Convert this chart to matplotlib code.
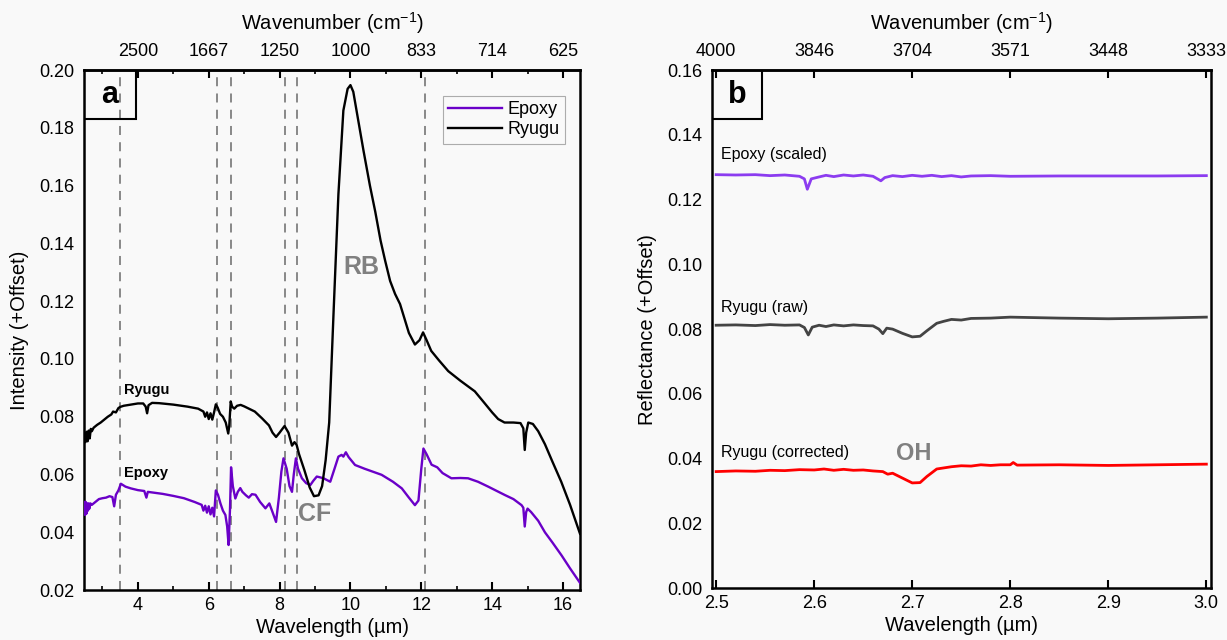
import matplotlib
matplotlib.use("Agg")
import matplotlib.pyplot as plt
from matplotlib.patches import Rectangle

plt.rcParams['font.family'] = ['Liberation Sans', 'DejaVu Sans']

# ---- panel a data (wavelength in um, intensity + offset) ----
ryugu_wl = [2.48, 2.52, 2.55, 2.58, 2.61, 2.64, 2.67, 2.70, 2.75, 2.85, 2.95, 3.05, 3.15, 3.25, 3.30,
            3.38, 3.45, 3.50, 3.60, 3.80, 4.00, 4.15, 4.22, 4.26, 4.30, 4.40, 4.60, 5.00, 5.40, 5.70,
            5.85, 5.90, 5.95, 6.00, 6.05, 6.10, 6.15, 6.20, 6.25, 6.32, 6.40, 6.48, 6.55, 6.58, 6.62,
            6.66, 6.72, 6.80, 6.90, 7.00, 7.10, 7.30, 7.50, 7.70, 7.80, 7.90, 8.00, 8.14, 8.25, 8.35,
            8.42, 8.48, 8.55, 8.70, 8.85, 8.97, 9.10, 9.20, 9.30, 9.40, 9.52, 9.66, 9.80, 9.92, 10.0,
            10.08, 10.2, 10.37, 10.55, 10.70, 10.85, 10.98, 11.12, 11.26, 11.40, 11.50, 11.65, 11.82,
            11.95, 12.05, 12.15, 12.28, 12.50, 12.76, 13.10, 13.51, 13.80, 14.00, 14.17, 14.35, 14.60,
            14.80, 14.88, 14.92, 14.96, 15.02, 15.15, 15.30, 15.49, 15.70, 15.95, 16.20, 16.48]
ryugu_int = [0.0745, 0.0712, 0.0748, 0.0715, 0.0752, 0.0725, 0.0758, 0.0750, 0.0762, 0.0772, 0.0780,
             0.0790, 0.0800, 0.0808, 0.0818, 0.0815, 0.0830, 0.0834, 0.0838, 0.0842, 0.0846, 0.0846,
             0.0835, 0.0812, 0.0840, 0.0848, 0.0847, 0.0842, 0.0835, 0.0828, 0.0818, 0.0800, 0.0815,
             0.0792, 0.0812, 0.0790, 0.0815, 0.0843, 0.0832, 0.0810, 0.0800, 0.0780, 0.0742, 0.0770,
             0.0853, 0.0835, 0.0828, 0.0838, 0.0841, 0.0836, 0.0830, 0.0818, 0.0795, 0.0770, 0.0745,
             0.0730, 0.0745, 0.0768, 0.0745, 0.0700, 0.0712, 0.0703, 0.0670, 0.0615, 0.0555, 0.0525,
             0.0528, 0.0560, 0.0650, 0.0780, 0.1150, 0.1570, 0.1860, 0.1935, 0.1948, 0.1925, 0.1840,
             0.1720, 0.1600, 0.1510, 0.1410, 0.1340, 0.1270, 0.1225, 0.1190, 0.1150, 0.1090, 0.1050,
             0.1065, 0.1092, 0.1065, 0.1028, 0.0995, 0.0958, 0.0925, 0.0888, 0.0845, 0.0815, 0.0792,
             0.0780, 0.0780, 0.0778, 0.0760, 0.0685, 0.0745, 0.0780, 0.0775, 0.0750, 0.0705, 0.0645,
             0.0575, 0.0495, 0.0395]

epoxy_wl = [2.48, 2.51, 2.53, 2.55, 2.57, 2.59, 2.61, 2.63, 2.66, 2.70, 2.80, 2.90, 3.00, 3.10, 3.20,
            3.28, 3.33, 3.38, 3.45, 3.52, 3.65, 3.80, 4.00, 4.18, 4.24, 4.28, 4.40, 4.70, 5.00, 5.30,
            5.60, 5.80, 5.85, 5.90, 5.95, 6.00, 6.05, 6.10, 6.15, 6.20, 6.26, 6.33, 6.40, 6.47, 6.52,
            6.56, 6.60, 6.63, 6.68, 6.75, 6.82, 6.89, 6.95, 7.05, 7.13, 7.22, 7.32, 7.45, 7.60, 7.71,
            7.80, 7.90, 7.98, 8.05, 8.11, 8.20, 8.28, 8.35, 8.40, 8.46, 8.52, 8.63, 8.75, 8.87, 8.95,
            9.05, 9.15, 9.24, 9.35, 9.43, 9.55, 9.66, 9.75, 9.80, 9.87, 9.95, 10.13, 10.40, 10.88,
            11.20, 11.45, 11.65, 11.82, 11.92, 12.00, 12.06, 12.15, 12.29, 12.45, 12.60, 12.85, 13.10,
            13.32, 13.60, 13.89, 14.10, 14.36, 14.60, 14.83, 14.88, 14.92, 14.96, 15.00, 15.10, 15.30,
            15.49, 15.70, 15.96, 16.20, 16.48]
epoxy_int = [0.0505, 0.0460, 0.0505, 0.0465, 0.0500, 0.0475, 0.0500, 0.0482, 0.0500, 0.0495, 0.0505,
             0.0515, 0.0518, 0.0520, 0.0525, 0.0522, 0.0490, 0.0530, 0.0545, 0.0568, 0.0558, 0.0552,
             0.0546, 0.0543, 0.0520, 0.0540, 0.0538, 0.0533, 0.0526, 0.0518, 0.0505, 0.0495, 0.0475,
             0.0492, 0.0468, 0.0490, 0.0462, 0.0485, 0.0455, 0.0545, 0.0530, 0.0500, 0.0475, 0.0460,
             0.0420, 0.0356, 0.0480, 0.0625, 0.0560, 0.0517, 0.0540, 0.0553, 0.0540, 0.0528, 0.0520,
             0.0532, 0.0530, 0.0505, 0.0483, 0.0500, 0.0470, 0.0436, 0.0520, 0.0610, 0.0656, 0.0620,
             0.0560, 0.0540, 0.0600, 0.0656, 0.0620, 0.0587, 0.0570, 0.0564, 0.0578, 0.0593, 0.0590,
             0.0587, 0.0580, 0.0575, 0.0620, 0.0662, 0.0668, 0.0662, 0.0677, 0.0660, 0.0633, 0.0620,
             0.0599, 0.0575, 0.0552, 0.0520, 0.0494, 0.0510, 0.0620, 0.0690, 0.0670, 0.0634, 0.0625,
             0.0605, 0.0587, 0.0588, 0.0587, 0.0575, 0.0558, 0.0545, 0.0529, 0.0515, 0.0494, 0.0485,
             0.0420, 0.0470, 0.0482, 0.0470, 0.0440, 0.0400, 0.0365, 0.0320, 0.0275, 0.0225]

band_lines = [3.5, 6.22, 6.62, 8.15, 8.48, 12.1]
a_ticks = [4, 6, 8, 10, 12, 14, 16]
a_top_labels = ["2500", "1667", "1250", "1000", "833", "714", "625"]

# ---- panel b data ----
b_epoxy_wl = [2.500, 2.520, 2.540, 2.555, 2.570, 2.585, 2.590, 2.593, 2.597, 2.605, 2.612, 2.620,
              2.630, 2.640, 2.650, 2.660, 2.668, 2.672, 2.680, 2.690, 2.700, 2.710, 2.720, 2.730,
              2.740, 2.750, 2.760, 2.780, 2.800, 2.850, 2.900, 2.950, 3.000]
b_epoxy = [0.1277, 0.1276, 0.1277, 0.1274, 0.1276, 0.1272, 0.1264, 0.1232, 0.1264, 0.1270, 0.1275,
           0.1271, 0.1276, 0.1273, 0.1276, 0.1272, 0.1258, 0.1268, 0.1274, 0.1271, 0.1275, 0.1272,
           0.1275, 0.1271, 0.1274, 0.1270, 0.1273, 0.1274, 0.1272, 0.1273, 0.1273, 0.1273, 0.1274]

b_raw_wl = [2.500, 2.520, 2.540, 2.555, 2.570, 2.585, 2.590, 2.594, 2.598, 2.605, 2.612, 2.620, 2.630,
            2.640, 2.650, 2.660, 2.666, 2.670, 2.674, 2.680, 2.690, 2.700, 2.708, 2.715, 2.725, 2.732,
            2.740, 2.750, 2.760, 2.780, 2.800, 2.850, 2.900, 2.950, 3.000]
b_raw = [0.0812, 0.0813, 0.0811, 0.0814, 0.0812, 0.0813, 0.0805, 0.0782, 0.0806, 0.0812, 0.0808,
         0.0813, 0.0810, 0.0813, 0.0811, 0.0810, 0.0800, 0.0786, 0.0803, 0.0800, 0.0787, 0.0776,
         0.0778, 0.0795, 0.0818, 0.0824, 0.0830, 0.0828, 0.0833, 0.0834, 0.0837, 0.0834, 0.0832,
         0.0834, 0.0837]

b_corr_wl = [2.500, 2.520, 2.540, 2.555, 2.570, 2.585, 2.600, 2.610, 2.620, 2.630, 2.640, 2.650,
             2.660, 2.670, 2.675, 2.680, 2.690, 2.700, 2.708, 2.715, 2.725, 2.740, 2.750, 2.760,
             2.770, 2.780, 2.790, 2.800, 2.803, 2.807, 2.850, 2.900, 2.950, 3.000]
b_corr = [0.0360, 0.0362, 0.0361, 0.0364, 0.0363, 0.0366, 0.0365, 0.0368, 0.0364, 0.0367, 0.0364,
          0.0365, 0.0362, 0.0360, 0.0352, 0.0355, 0.0340, 0.0325, 0.0326, 0.0345, 0.0368, 0.0375,
          0.0378, 0.0377, 0.0381, 0.0379, 0.0381, 0.0381, 0.0388, 0.0380, 0.0381, 0.0379, 0.0381,
          0.0383]

b_ticks = [2.5, 2.6, 2.7, 2.8, 2.9, 3.0]
b_top_labels = ["4000", "3846", "3704", "3571", "3448", "3333"]

bg = '#f9f9f9'
tick_fs = 13
lab_fs = 14.5
fig = plt.figure(figsize=(12.27, 6.4), dpi=100, facecolor=bg)
ax1 = fig.add_axes([0.0685, 0.078, 0.4042, 0.8125])
ax2 = fig.add_axes([0.5803, 0.081, 0.4067, 0.8095])


def style(ax):
    ax.set_facecolor(bg)
    for s in ax.spines.values():
        s.set_linewidth(1.8)
    ax.tick_params(axis='x', direction='in', length=6, width=1.5, labelsize=tick_fs, pad=5)
    ax.tick_params(axis='x', which='minor', direction='in', length=3, width=1.2)
    ax.tick_params(axis='y', length=0, labelsize=tick_fs, pad=7)


# panel a
style(ax1)
for x in band_lines:
    ax1.axvline(x, color='#808080', ls=(0, (5, 4)), lw=1.3, zorder=1)
ax1.plot(epoxy_wl, epoxy_int, color='#6a00c8', lw=1.7, label='Epoxy', zorder=3)
ax1.plot(ryugu_wl, ryugu_int, color='black', lw=1.7, label='Ryugu', zorder=3)
ax1.set_xlim(2.48, 16.48)
ax1.set_ylim(0.02, 0.20)
ax1.set_xticks(a_ticks)
ax1.set_xticks([3, 5, 7, 9, 11, 13, 15], minor=True)
ax1.set_yticks([0.02 * i for i in range(1, 11)])
ax1.yaxis.set_major_formatter(matplotlib.ticker.FormatStrFormatter('%.2f'))
ax1.set_xlabel('Wavelength (µm)', fontsize=lab_fs, labelpad=3)
ax1.set_ylabel('Intensity (+Offset)', fontsize=lab_fs, labelpad=7)
top1 = ax1.secondary_xaxis('top')
top1.set_xticks(a_ticks, labels=a_top_labels)
top1.set_xticks([3, 5, 7, 9, 11, 13, 15], minor=True)
top1.tick_params(direction='in', length=6, width=1.5, labelsize=tick_fs, pad=7)
top1.tick_params(which='minor', direction='in', length=3, width=1.2)
top1.spines['top'].set_linewidth(1.8)
top1.set_xlabel('Wavenumber (cm$^{\\mathregular{-1}}$)', fontsize=lab_fs, labelpad=10)
leg = ax1.legend(loc='upper right', bbox_to_anchor=(0.97, 0.95), fontsize=tick_fs, frameon=True,
                 fancybox=False, edgecolor='#999999', handlelength=3.0, borderpad=0.3,
                 labelspacing=0.15, handletextpad=0.3, borderaxespad=0)
leg.get_frame().set_facecolor(bg)
leg.get_frame().set_linewidth(0.8)
ax1.text(3.62, 0.0868, 'Ryugu', fontsize=10.5, fontweight='bold', ha='left', va='bottom')
ax1.text(3.62, 0.0580, 'Epoxy', fontsize=10.5, fontweight='bold', ha='left', va='bottom')
ax1.text(10.3, 0.132, 'RB', fontsize=18, fontweight='bold', color='#808080', ha='center', va='center')
ax1.text(9.0, 0.0465, 'CF', fontsize=18, fontweight='bold', color='#808080', ha='center', va='center')
ax1.add_patch(Rectangle((0, 0.905), 0.105, 0.095, transform=ax1.transAxes, fill=False,
                        edgecolor='black', lw=1.5, zorder=5))
ax1.text(0.0525, 0.952, 'a', transform=ax1.transAxes, fontsize=22, fontweight='bold',
         ha='center', va='center')

# panel b
style(ax2)
ax2.plot(b_epoxy_wl, b_epoxy, color='#8c3cf0', lw=2.0)
ax2.plot(b_raw_wl, b_raw, color='#444444', lw=2.0)
ax2.plot(b_corr_wl, b_corr, color='#ff0000', lw=2.0)
ax2.set_xlim(2.4958, 3.0048)
ax2.set_ylim(0, 0.16)
ax2.set_xticks(b_ticks)
ax2.set_yticks([0.02 * i for i in range(0, 9)])
ax2.yaxis.set_major_formatter(matplotlib.ticker.FormatStrFormatter('%.2f'))
ax2.xaxis.set_major_formatter(matplotlib.ticker.FormatStrFormatter('%.1f'))
ax2.set_xlabel('Wavelength (µm)', fontsize=lab_fs, labelpad=3)
ax2.set_ylabel('Reflectance (+Offset)', fontsize=lab_fs, labelpad=7)
top2 = ax2.secondary_xaxis('top')
top2.set_xticks(b_ticks, labels=b_top_labels)
top2.tick_params(direction='in', length=6, width=1.5, labelsize=tick_fs, pad=7)
top2.spines['top'].set_linewidth(1.8)
top2.set_xlabel('Wavenumber (cm$^{\\mathregular{-1}}$)', fontsize=lab_fs, labelpad=10)
ax2.text(2.505, 0.1315, 'Epoxy (scaled)', fontsize=11.5, ha='left', va='bottom')
ax2.text(2.505, 0.0845, 'Ryugu (raw)', fontsize=11.5, ha='left', va='bottom')
ax2.text(2.505, 0.0395, 'Ryugu (corrected)', fontsize=11.5, ha='left', va='bottom')
ax2.text(2.702, 0.0415, 'OH', fontsize=17, fontweight='bold', color='#808080', ha='center', va='center')
ax2.add_patch(Rectangle((0, 0.905), 0.1, 0.095, transform=ax2.transAxes, fill=False,
                        edgecolor='black', lw=1.5, zorder=5))
ax2.text(0.05, 0.952, 'b', transform=ax2.transAxes, fontsize=22, fontweight='bold',
         ha='center', va='center')

fig.savefig('out.png', dpi=100, facecolor=bg)
